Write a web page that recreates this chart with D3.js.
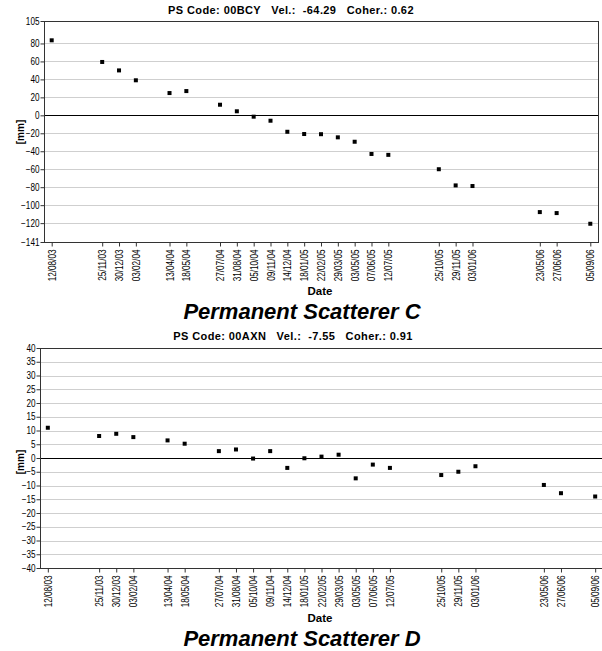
<!DOCTYPE html>
<html>
<head>
<meta charset="utf-8">
<script src="https://cdn.jsdelivr.net/npm/d3@7"></script>
<style>
  body { margin: 0; background: #fff; }
  svg { display: block; font-family: "Liberation Sans", Arial, sans-serif; }
</style>
</head>
<body>
<div id="chart"></div>
<script>
// acquisition dates (dd/mm/yy), same for both scatterers
var dates = ["12/08/03", "25/11/03", "30/12/03", "03/02/04", "13/04/04", "18/05/04",
  "27/07/04", "31/08/04", "05/10/04", "09/11/04", "14/12/04", "18/01/05", "22/02/05",
  "29/03/05", "03/05/05", "07/06/05", "12/07/05", "25/10/05", "29/11/05", "03/01/06",
  "23/05/06", "27/06/06", "05/09/06"];

// displacement in mm
var valuesC = [83.5, 59.4, 50, 39, 24.8, 27, 11.8, 4.5, -1.5, -6, -18.3, -20.8, -21,
  -24.5, -29.4, -43, -44, -60, -78, -78.7, -107.7, -108.8, -120.7];
var valuesD = [11, 8, 8.8, 7.6, 6.4, 5.2, 2.5, 3.1, -0.2, 2.5, -3.6, -0.1, 0.5,
  1.2, -7.4, -2.4, -3.6, -6.2, -5, -3, -9.8, -12.8, -14];

var yTicksC = [105, 80, 60, 40, 20, 0, -20, -40, -60, -80, -100, -120, -141];
var yTicksD = [40, 35, 30, 25, 20, 15, 10, 5, 0, -5, -10, -15, -20, -25, -30, -35, -40];

var codes = ["00BCY", "00AXN"];
var vels = ["-64.29", "-7.55"];
var cohers = ["0.62", "0.91"];
var titles = ["Permanent Scatterer C", "Permanent Scatterer D"];

var width = 602;
var height = 651;
var squeeze = 0.82;  // tick labels are a narrow face

var parseDate = d3.timeParse("%d/%m/%y");
var fmtDate = d3.timeFormat("%d/%m/%y");
var dateObjs = dates.map(parseDate);

var svg = d3.select("#chart").append("svg")
  .attr("width", width)
  .attr("height", height);

function drawPanel(p) {
  var g = svg.append("g");

  var x = d3.scaleTime()
    .domain([d3.timeDay.offset(dateObjs[0], -16), d3.timeDay.offset(dateObjs[dateObjs.length - 1], 16)])
    .range([p.left, p.right]);
  var y = d3.scaleLinear()
    .domain([d3.min(p.ticks), d3.max(p.ticks)])
    .range([p.bottom, p.top]);

  // grid lines
  g.append("g").selectAll("line")
    .data(p.ticks.filter(t => t != d3.min(p.ticks) && t != d3.max(p.ticks)))
    .enter().append("line")
    .attr("x1", p.left).attr("x2", p.right)
    .attr("y1", d => Math.round(y(d)) + 0.5).attr("y2", d => Math.round(y(d)) + 0.5)
    .attr("stroke", d => d == 0 ? "#000" : "#cfcfcf")
    .attr("stroke-width", 1);

  // frame
  g.append("rect")
    .attr("x", p.left + 0.5).attr("y", Math.round(p.top) + 0.5)
    .attr("width", p.right - p.left).attr("height", p.bottom - p.top)
    .attr("fill", "none")
    .attr("stroke", "#333");

  var yAxis = d3.axisLeft(y).tickValues(p.ticks).tickSize(4);
  var ya = g.append("g")
    .attr("transform", `translate(${p.left + 0.5},0)`)
    .call(yAxis);
  ya.select(".domain").remove();
  ya.selectAll("line").attr("stroke", "#333");
  ya.selectAll("text")
    .style("font-size", "10px")
    .attr("fill", "#000")
    .attr("x", -5 / squeeze)
    .attr("transform", `scale(${squeeze},1)`);

  var xAxis = d3.axisBottom(x).tickValues(dateObjs).tickFormat(fmtDate).tickSize(4);
  var xa = g.append("g")
    .attr("transform", `translate(0,${p.bottom + 0.5})`)
    .call(xAxis);
  xa.select(".domain").remove();
  xa.selectAll("line").attr("stroke", "#333");
  xa.selectAll("text")
    .style("font-size", "10px")
    .attr("fill", "#000")
    .attr("transform", `rotate(-90) scale(${squeeze},1)`)
    .attr("x", -7 / squeeze)
    .attr("y", 0)
    .attr("dy", "0.35em")
    .style("text-anchor", "end");

  // points
  g.append("g").selectAll("rect")
    .data(p.values)
    .enter().append("rect")
    .attr("x", (d, i) => x(dateObjs[i]) - 2)
    .attr("y", d => y(d) - 2)
    .attr("width", 4).attr("height", 4)
    .attr("fill", "#000");

  // subtitle
  g.append("text")
    .attr("x", p.subX).attr("y", p.subY)
    .attr("text-anchor", "middle")
    .style("font-size", "11px").style("font-weight", "bold")
    .style("letter-spacing", "0.4px")
    .style("white-space", "pre")
    .attr("xml:space", "preserve")
    .text(`PS Code: ${p.code}   Vel.:  ${p.vel}   Coher.: ${p.coher}`);

  g.append("text")
    .attr("transform", `translate(${p.mmX},${p.mmY}) rotate(-90)`)
    .attr("text-anchor", "middle")
    .style("font-size", "10px").style("font-weight", "bold")
    .text("[mm]");

  g.append("text")
    .attr("x", 320).attr("y", p.dateY)
    .attr("text-anchor", "middle")
    .style("font-size", "11.5px").style("font-weight", "bold")
    .text("Date");

  g.append("text")
    .attr("x", 302).attr("y", p.titleY)
    .attr("text-anchor", "middle")
    .style("font-size", "22px").style("font-weight", "bold").style("font-style", "italic")
    .text(p.title);
}

drawPanel({left: 44, right: 598, top: 21, bottom: 242, ticks: yTicksC, values: valuesC,
  code: codes[0], vel: vels[0], coher: cohers[0], title: titles[0],
  subX: 291, subY: 14, mmX: 24, mmY: 132, dateY: 295, titleY: 319});

drawPanel({left: 40, right: 603, top: 348, bottom: 568, ticks: yTicksD, values: valuesD,
  code: codes[1], vel: vels[1], coher: cohers[1], title: titles[1],
  subX: 293, subY: 340, mmX: 24, mmY: 462, dateY: 622, titleY: 646});
</script>
</body>
</html>
